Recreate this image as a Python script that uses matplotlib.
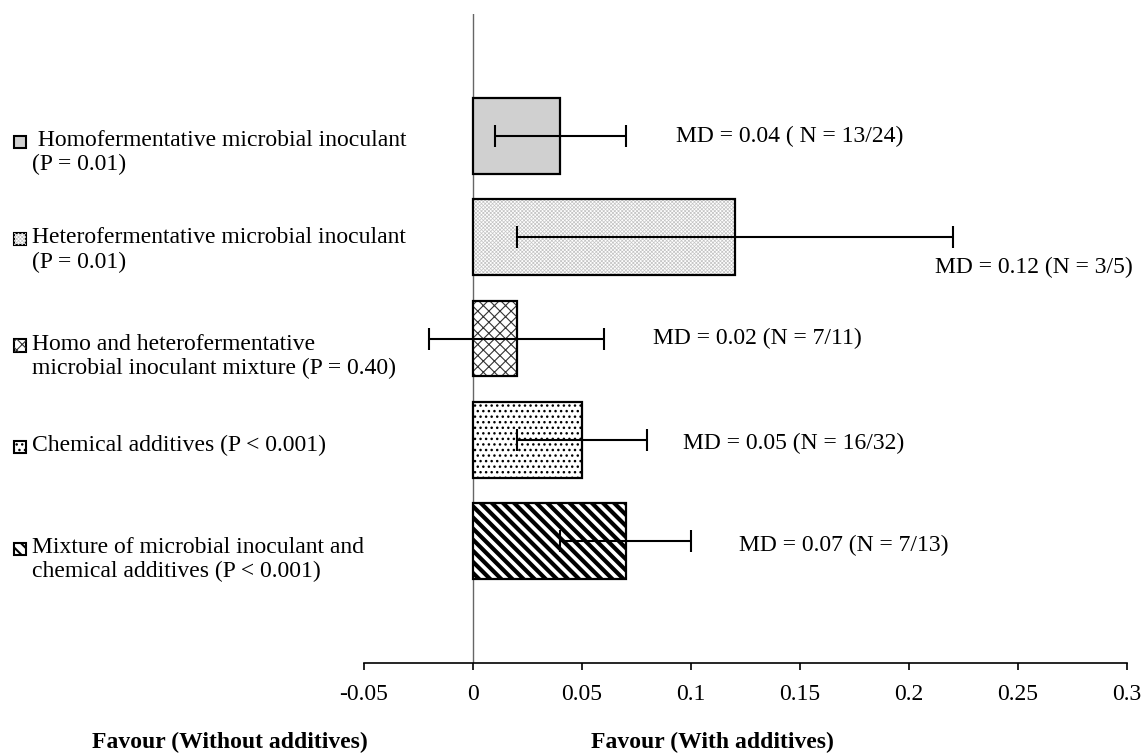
import matplotlib.pyplot as plt
from matplotlib.patches import Rectangle
from matplotlib import transforms

plt.rcParams["font.family"] = ["Liberation Serif", "DejaVu Serif"]

# data
groups = [
    " Homofermentative microbial inoculant\n(P = 0.01)",
    "Heterofermentative microbial inoculant\n(P = 0.01)",
    "Homo and heterofermentative\nmicrobial inoculant mixture (P = 0.40)",
    "Chemical additives (P < 0.001)",
    "Mixture of microbial inoculant and\nchemical additives (P < 0.001)",
]
md = [0.04, 0.12, 0.02, 0.05, 0.07]
md_err = [0.03, 0.10, 0.04, 0.03, 0.03]
md_text = [
    "MD = 0.04 ( N = 13/24)",
    "MD = 0.12 (N = 3/5)",
    "MD = 0.02 (N = 7/11)",
    "MD = 0.05 (N = 16/32)",
    "MD = 0.07 (N = 7/13)",
]
xticks = [-0.05, 0, 0.05, 0.1, 0.15, 0.2, 0.25, 0.3]
xtick_labels = ["-0.05", "0", "0.05", "0.1", "0.15", "0.2", "0.25", "0.3"]

# styles (fill, hatch, hatch colour, hatch linewidth)
styles = [
    ("#d0d0d0", None, "#d0d0d0", 1.0),
    ("white", "xxxxxxxxx", "#c4c4c4", 0.5),
    ("white", "xxx", "#333333", 0.8),
    ("white", "...", "black", 1.0),
    ("white", "\\\\\\", "black", 3.0),
]
# label placement (data x, y offset)
md_pos = [(0.093, 0.0), (0.212, 0.3), (0.0826, 0.0), (0.0963, 0.04), (0.122, 0.04)]
label_dy = [6, 2, 7, 7, 8]  # pixel offsets of the left labels

fig = plt.figure(figsize=(11.43, 7.54), dpi=100)
ax = fig.add_axes([364 / 1143, 91 / 754, 763 / 1143, 649 / 754])

ypos = list(range(len(md)))
bar_h = 0.75


def hatched(patch, lw):
    try:
        patch.set_hatch_linewidth(lw)
    except AttributeError:
        pass


for y, v, (fc, hatch, hc, hlw) in zip(ypos, md, styles):
    plt.rcParams["hatch.linewidth"] = hlw
    b = ax.barh(y, v, height=bar_h, color=fc, edgecolor=hc, hatch=hatch,
                linewidth=0, zorder=2)
    for p in b:
        hatched(p, hlw)
    ax.barh(y, v, height=bar_h, fill=False, edgecolor="black", linewidth=1.6,
            zorder=2.5)

ax.errorbar(md, ypos, xerr=md_err, fmt="none", ecolor="black",
            elinewidth=1.5, capsize=8, capthick=1.5, zorder=3)

ax.axvline(0, color="#666666", lw=1, zorder=1)

for (tx, dy), y, t in zip(md_pos, ypos, md_text):
    ax.text(tx, y + dy, t, fontsize=17, ha="left", va="center")

# category labels with small swatches on the left
blend = transforms.blended_transform_factory(fig.transFigure, ax.transData)
for y, g, off, (fc, hatch, hc, hlw) in zip(ypos, groups, label_dy, styles):
    ax.annotate(g, xy=(32 / 1143, y), xycoords=blend, xytext=(0, 12 - off),
                textcoords="offset pixels", ha="left", va="top",
                fontsize=17, linespacing=1.2, annotation_clip=False)
    sy = y + off / 101.0 - 0.06
    sw = Rectangle((14 / 1143, sy), 12 / 1143, 0.12, transform=blend,
                   facecolor=fc, edgecolor="black", linewidth=1.5,
                   clip_on=False, zorder=4)
    ax.add_patch(sw)
    if hatch:
        plt.rcParams["hatch.linewidth"] = min(hlw, 1.5)
        sw2 = Rectangle((14 / 1143, sy), 12 / 1143, 0.12, transform=blend,
                        facecolor="none", edgecolor=hc, hatch=hatch,
                        linewidth=0, clip_on=False, zorder=4.1)
        hatched(sw2, min(hlw, 1.5))
        ax.add_patch(sw2)

ax.set_xlim(-0.05, 0.3)
ax.set_ylim(4 + 1.205, -1.205)
ax.set_xticks(xticks)
ax.set_xticklabels(xtick_labels, fontsize=17)
ax.set_yticks([])
for s in ["top", "right", "left"]:
    ax.spines[s].set_visible(False)
ax.spines["bottom"].set_linewidth(1.2)
ax.tick_params(axis="x", direction="out", length=5, width=1.2, pad=10)

fig.text(230 / 1143, 1 - 742 / 754, "Favour (Without additives)",
         fontsize=17, fontweight="bold", ha="center", va="center")
fig.text(712 / 1143, 1 - 742 / 754, "Favour (With additives)",
         fontsize=17, fontweight="bold", ha="center", va="center")

fig.savefig("out.png", dpi=100)
